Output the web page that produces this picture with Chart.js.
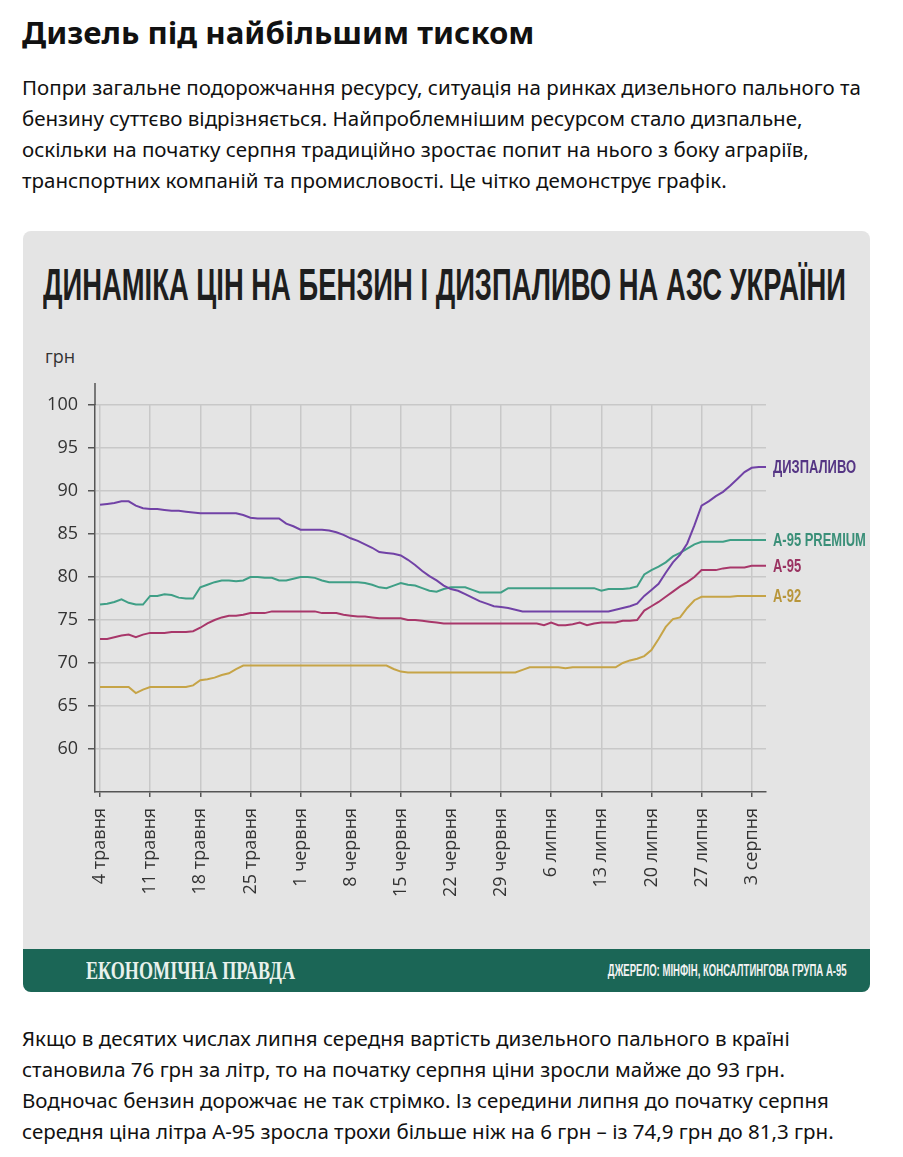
<!DOCTYPE html>
<html lang="uk">
<head>
<meta charset="utf-8">
<script src="https://cdn.jsdelivr.net/npm/chart.js@4.4.1/dist/chart.umd.min.js"></script>
<style>
  html, body { margin: 0; padding: 0; background: #fff; }
  body { width: 903px; height: 1157px; position: relative; overflow: hidden; color: #111; font-family: "Noto Sans", sans-serif; }
  h1 { position: absolute; left: 22px; top: 14px; margin: 0; font: bold 31.2px/36px "Noto Sans", sans-serif; white-space: nowrap; }
  .para { position: absolute; left: 22px; margin: 0; font: 20.5px/31px "Noto Sans", sans-serif; white-space: nowrap; }
  #card { position: absolute; left: 23px; top: 231px; width: 847px; height: 761px; background: #e4e4e4; border-radius: 8px; overflow: hidden; }
  #title { position: absolute; left: 20px; top: 32px; font: bold 44px/44px "Liberation Sans Narrow", sans-serif; color: #1e1e1e; white-space: nowrap; transform-origin: left top; }
  #unit { position: absolute; left: 22px; top: 113px; font: 18px/24px "Open Sans", sans-serif; color: #333; }
  #chart { position: absolute; left: 0; top: 99px; }
  #band { position: absolute; left: 0; top: 718px; width: 847px; height: 43px; background: #1b6656; }
  #brand { position: absolute; left: 63px; top: 0; font: bold 26px/43px "Liberation Serif", serif; color: #e8f1ec; white-space: nowrap; transform-origin: left top; }
  #source { position: absolute; right: 23px; top: 0; font: bold 16px/43px "Liberation Sans Narrow", sans-serif; color: #f2f2f2; white-space: nowrap; transform-origin: right top; }
</style>
</head>
<body>
<h1>Дизель під найбільшим тиском</h1>
<p class="para" style="top:72px">Попри загальне подорожчання ресурсу, ситуація на ринках дизельного пального та<br>бензину суттєво відрізняється. Найпроблемнішим ресурсом стало дизпальне,<br>оскільки на початку серпня традиційно зростає попит на нього з боку аграріїв,<br>транспортних компаній та промисловості. Це чітко демонструє графік.</p>

<div id="card">
  <div id="title">ДИНАМІКА ЦІН НА БЕНЗИН І ДИЗПАЛИВО НА АЗС УКРАЇНИ</div>
  <div id="unit">грн</div>
  <canvas id="chart" width="847" height="600"></canvas>
  <div id="band">
    <div id="brand">ЕКОНОМІЧНА ПРАВДА</div>
    <div id="source">ДЖЕРЕЛО: МІНФІН, КОНСАЛТИНГОВА ГРУПА А-95</div>
  </div>
</div>

<p class="para" style="top:1023px">Якщо в десятих числах липня середня вартість дизельного пального в країні<br>становила 76 грн за літр, то на початку серпня ціни зросли майже до 93 грн.<br>Водночас бензин дорожчає не так стрімко. Із середини липня до початку серпня<br>середня ціна літра А-95 зросла трохи більше ніж на 6 грн – із 74,9 грн до 81,3 грн.</p>

<script>
// daily prices, 4 May .. 5 Aug (day 0 = 4 травня)
const tickDays = [0, 7, 14, 21, 28, 35, 42, 49, 56, 63, 70, 77, 84, 91];
const tickLabels = ["4 травня", "11 травня", "18 травня", "25 травня", "1 червня", "8 червня", "15 червня",
  "22 червня", "29 червня", "6 липня", "13 липня", "20 липня", "27 липня", "3 серпня"];
const yTicks = [60, 65, 70, 75, 80, 85, 90, 95, 100];

const seriesNames = ["ДИЗПАЛИВО", "А-95 PREMIUM", "А-95", "А-92"];

const diesel = [
  88.4, 88.5, 88.6, 88.8, 88.8, 88.3, 88.0,
  87.9, 87.9, 87.8, 87.7, 87.7, 87.6, 87.5,
  87.4, 87.4, 87.4, 87.4, 87.4, 87.4, 87.2,
  86.9, 86.8, 86.8, 86.8, 86.8, 86.2, 85.9,
  85.5, 85.5, 85.5, 85.5, 85.4, 85.2, 84.9,
  84.5, 84.2, 83.8, 83.4, 82.9, 82.8, 82.7,
  82.5, 82.0, 81.4, 80.7, 80.1, 79.6, 79.0,
  78.6, 78.4, 78.0, 77.6, 77.2, 76.9, 76.6,
  76.5, 76.4, 76.2, 76.0, 76.0, 76.0, 76.0,
  76.0, 76.0, 76.0, 76.0, 76.0, 76.0, 76.0,
  76.0, 76.0, 76.2, 76.4, 76.6, 76.9, 77.8,
  78.5, 79.2, 80.5, 81.7, 82.6, 83.9, 86.0,
  88.3, 88.8, 89.4, 89.9, 90.6, 91.4, 92.2,
  92.7, 92.8, 92.8
];
const premium95 = [
  76.8, 76.9, 77.1, 77.4, 77.0, 76.8, 76.8,
  77.8, 77.8, 78.0, 77.9, 77.6, 77.5, 77.5,
  78.8, 79.1, 79.4, 79.6, 79.6, 79.5, 79.6,
  80.0, 80.0, 79.9, 79.9, 79.6, 79.6, 79.8,
  80.0, 80.0, 79.9, 79.6, 79.4, 79.4, 79.4,
  79.4, 79.4, 79.3, 79.1, 78.8, 78.7, 79.0,
  79.3, 79.1, 79.0, 78.7, 78.4, 78.3, 78.6,
  78.8, 78.8, 78.8, 78.5, 78.2, 78.2, 78.2,
  78.2, 78.7, 78.7, 78.7, 78.7, 78.7, 78.7,
  78.7, 78.7, 78.7, 78.7, 78.7, 78.7, 78.7,
  78.4, 78.6, 78.6, 78.6, 78.7, 78.9, 80.3,
  80.8, 81.2, 81.7, 82.4, 82.8, 83.3, 83.8,
  84.1, 84.1, 84.1, 84.1, 84.3, 84.3, 84.3,
  84.3, 84.3, 84.3
];
const a95 = [
  72.8, 72.8, 73.0, 73.2, 73.3, 73.0, 73.3,
  73.5, 73.5, 73.5, 73.6, 73.6, 73.6, 73.7,
  74.1, 74.6, 75.0, 75.3, 75.5, 75.5, 75.6,
  75.8, 75.8, 75.8, 76.0, 76.0, 76.0, 76.0,
  76.0, 76.0, 76.0, 75.8, 75.8, 75.8, 75.6,
  75.5, 75.4, 75.4, 75.3, 75.2, 75.2, 75.2,
  75.2, 75.0, 75.0, 74.9, 74.8, 74.7, 74.6,
  74.6, 74.6, 74.6, 74.6, 74.6, 74.6, 74.6,
  74.6, 74.6, 74.6, 74.6, 74.6, 74.6, 74.4,
  74.7, 74.4, 74.4, 74.5, 74.7, 74.4, 74.6,
  74.7, 74.7, 74.7, 74.9, 74.9, 75.0, 76.1,
  76.6, 77.1, 77.7, 78.3, 78.9, 79.4, 80.0,
  80.8, 80.8, 80.8, 81.0, 81.1, 81.1, 81.1,
  81.3, 81.3, 81.3
];
const a92 = [
  67.2, 67.2, 67.2, 67.2, 67.2, 66.5, 66.9,
  67.2, 67.2, 67.2, 67.2, 67.2, 67.2, 67.4,
  68.0, 68.1, 68.3, 68.6, 68.8, 69.3, 69.7,
  69.7, 69.7, 69.7, 69.7, 69.7, 69.7, 69.7,
  69.7, 69.7, 69.7, 69.7, 69.7, 69.7, 69.7,
  69.7, 69.7, 69.7, 69.7, 69.7, 69.7, 69.3,
  69.0, 68.9, 68.9, 68.9, 68.9, 68.9, 68.9,
  68.9, 68.9, 68.9, 68.9, 68.9, 68.9, 68.9,
  68.9, 68.9, 68.9, 69.2, 69.5, 69.5, 69.5,
  69.5, 69.5, 69.4, 69.5, 69.5, 69.5, 69.5,
  69.5, 69.5, 69.5, 70.0, 70.3, 70.5, 70.8,
  71.5, 72.8, 74.2, 75.1, 75.3, 76.4, 77.3,
  77.7, 77.7, 77.7, 77.7, 77.7, 77.8, 77.8,
  77.8, 77.8, 77.8
];

const lineColors = ["#7142a6", "#3f9f86", "#a8376a", "#c6a447"];
const labelColors = ["#553584", "#3a8f78", "#9a3361", "#b8963b"];

function fitWidth(el, w) {
  el.style.transform = "scaleX(" + (w / el.offsetWidth) + ")";
}
fitWidth(document.getElementById("title"), 803);
fitWidth(document.getElementById("brand"), 209);
fitWidth(document.getElementById("source"), 239);

const toPoints = arr => arr.map((v, i) => ({ x: i, y: v }));

// names at the line ends + y axis running above the top gridline
const endLabels = {
  id: "endLabels",
  afterDatasetsDraw(chart) {
    const ctx = chart.ctx;
    ctx.save();
    ctx.font = "bold 18px 'Liberation Sans Narrow', sans-serif";
    ctx.textBaseline = "middle";
    chart.data.datasets.forEach((ds, i) => {
      const pts = chart.getDatasetMeta(i).data;
      const last = pts[pts.length - 1];
      ctx.save();
      ctx.translate(last.x + 7, last.y + 1);
      ctx.scale(0.72, 1);
      ctx.fillStyle = labelColors[i];
      ctx.fillText(ds.label, 0, 0);
      ctx.restore();
    });
    const a = chart.chartArea;
    ctx.strokeStyle = "#555";
    ctx.lineWidth = 1.5;
    ctx.beginPath();
    ctx.moveTo(a.left, a.top - 22);
    ctx.lineTo(a.left, a.top);
    ctx.stroke();
    ctx.restore();
  }
};

new Chart(document.getElementById("chart"), {
  type: "line",
  data: {
    datasets: [diesel, premium95, a95, a92].map((arr, i) => ({
      label: seriesNames[i],
      data: toPoints(arr),
      borderColor: lineColors[i],
      borderWidth: 2,
      pointRadius: 0,
      tension: 0
    }))
  },
  options: {
    responsive: false,
    animation: false,
    layout: { padding: { left: 0, right: 104, top: 75, bottom: 0 } },
    plugins: { legend: { display: false }, tooltip: { enabled: false } },
    scales: {
      x: {
        type: "linear",
        min: -0.7,
        max: 93,
        afterBuildTicks: s => { s.ticks = tickDays.map(v => ({ value: v })); },
        afterFit: s => { s.height = 138; },
        grid: { color: "#c8c8c8", lineWidth: 1.5, tickLength: 5, tickColor: "#555" },
        border: { color: "#555", width: 1.5 },
        ticks: {
          minRotation: 90, maxRotation: 90, padding: 11, autoSkip: false,
          color: "#333",
          font: { family: "'Open Sans', sans-serif", size: 18 },
          callback: (v, i) => tickLabels[i]
        }
      },
      y: {
        min: 55,
        max: 100,
        afterBuildTicks: s => { s.ticks = yTicks.map(v => ({ value: v })); },
        afterFit: s => { s.width = 72; },
        grid: { color: "#c8c8c8", lineWidth: 1.5, tickLength: 7, tickColor: "#555" },
        border: { color: "#555", width: 1.5 },
        ticks: {
          padding: 10,
          color: "#333",
          font: { family: "'Open Sans', sans-serif", size: 18 }
        }
      }
    }
  },
  plugins: [endLabels]
});
</script>
</body>
</html>
